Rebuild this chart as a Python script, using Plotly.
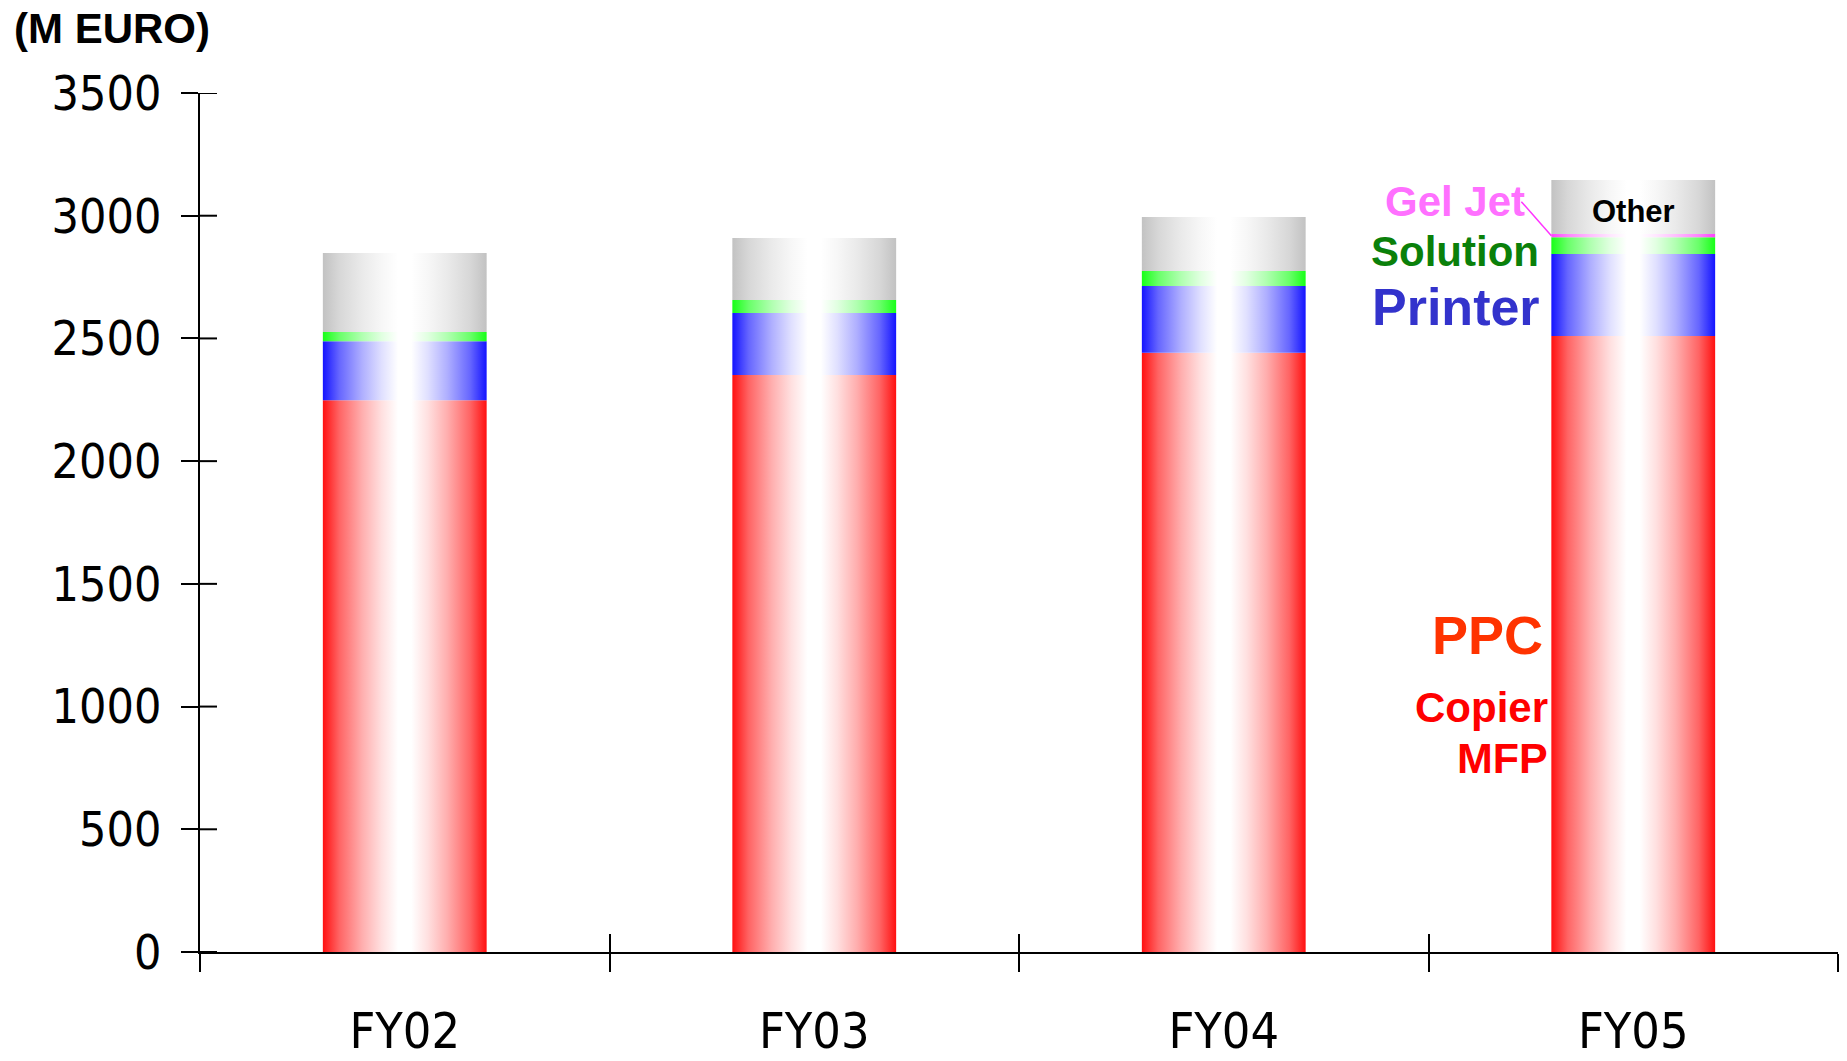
import plotly.graph_objects as go

# Net sales by business segment (M EURO)
categories = ["FY02", "FY03", "FY04", "FY05"]
ppc = [2248, 2351, 2442, 2510]
printer = [241, 253, 272, 334]
solution = [37, 53, 61, 68]
gel_jet = [0, 0, 0, 13]
other = [322, 252, 220, 221]
y_ticks = [0, 500, 1000, 1500, 2000, 2500, 3000, 3500]

BAR_WIDTH = 0.4
AXIS_FONT = "Liberation Sans Narrow, DejaVu Sans Condensed, Arial Narrow, sans-serif"
LABEL_FONT = "Liberation Sans, Arial, sans-serif"
TICK_LEN = 17

segments = [
    ("PPC", ppc, (255, 16, 16)),
    ("Printer", printer, (20, 20, 255)),
    ("Solution", solution, (24, 255, 24)),
    ("Gel Jet", gel_jet, (255, 64, 255)),
    ("Other", other, (194, 194, 194)),
]

# Share of the edge colour across a column (0 = edge, 0.5 = centre)
SHADE_STOPS = [(0.0, 1.0), (0.1, 0.65), (0.24, 0.34), (0.36, 0.13), (0.46, 0.0)]


def mix_white(rgb, f):
    r, g, b = (round(255 + (c - 255) * f) for c in rgb)
    return f"rgb({r},{g},{b})"


def column_scale(rgb):
    left = [[p, mix_white(rgb, f)] for p, f in SHADE_STOPS]
    right = [[1 - p, mix_white(rgb, f)] for p, f in reversed(SHADE_STOPS)]
    return left + right


fig = go.Figure()

# Stacked columns, each segment shaded from its colour at the edges to white in the middle
base = [0] * len(categories)
for name, values, rgb in segments:
    scale = column_scale(rgb)
    for i, v in enumerate(values):
        if v <= 0:
            continue
        x0, x1 = i - BAR_WIDTH / 2, i + BAR_WIDTH / 2
        y0, y1 = base[i], base[i] + v
        fig.add_trace(go.Scatter(
            x=[x0, x1, x1, x0, x0],
            y=[y0, y0, y1, y1, y0],
            mode="lines",
            fill="toself",
            line=dict(width=0, color="rgba(0,0,0,0)"),
            fillgradient=dict(type="horizontal", start=x0, stop=x1, colorscale=scale),
            name=f"{name} {categories[i]}",
            hoverinfo="name",
            showlegend=False,
        ))
        base[i] += v

n = len(categories)
totals = base[:]
x_range = [-0.5, n - 0.5]
boundaries = [k - 0.5 for k in range(n + 1)]

# Transparent totals on the overlay x axes so those axes get drawn
for xa in ("x2", "x3"):
    fig.add_trace(go.Scatter(
        x=list(range(n)), y=totals, xaxis=xa, yaxis="y", mode="markers",
        marker=dict(opacity=0), hoverinfo="skip", showlegend=False,
    ))

fig.update_layout(
    width=1847, height=1061,
    margin=dict(l=200, r=9, t=93, b=109, autoexpand=False),
    paper_bgcolor="white", plot_bgcolor="white",
    xaxis=dict(
        range=x_range, tickvals=boundaries, ticks="outside", ticklen=18,
        tickwidth=2, tickcolor="black", showticklabels=False,
        showline=True, linecolor="black", linewidth=2, automargin=False,
        showgrid=False, zeroline=False, fixedrange=True,
    ),
    xaxis2=dict(
        overlaying="x", anchor="y", side="bottom", range=x_range,
        tickvals=boundaries, ticks="inside", ticklen=18, tickwidth=2,
        tickcolor="black", showticklabels=False, showline=False,
        automargin=False, showgrid=False, zeroline=False, fixedrange=True,
    ),
    xaxis3=dict(
        overlaying="x", anchor="y", side="bottom", range=x_range,
        tickvals=list(range(n)), ticktext=categories, ticks="",
        ticklabelstandoff=45, automargin=False,
        tickfont=dict(family=AXIS_FONT, size=50, color="black"),
        showline=False, showgrid=False, zeroline=False, fixedrange=True,
    ),
    yaxis=dict(
        range=[0, 3500], tickvals=y_ticks, ticks="outside", ticklen=TICK_LEN,
        tickwidth=2, tickcolor="black", ticklabelstandoff=10,
        tickfont=dict(family=AXIS_FONT, size=48, color="black"),
        showline=True, linecolor="black", linewidth=2, automargin=False,
        showgrid=False, zeroline=False, fixedrange=True,
    ),
)

# Inner halves of the value-axis ticks, so each tick crosses the axis line
for v in y_ticks:
    fig.add_shape(
        type="line", xref="paper", yref="y", xsizemode="pixel", xanchor=0,
        x0=0, x1=TICK_LEN, y0=v, y1=v, line=dict(color="black", width=2),
    )

# Unit label
fig.add_annotation(
    text="(M EURO)", xref="paper", yref="paper", x=-0.1148, y=1.075,
    xanchor="left", yanchor="middle", showarrow=False,
    font=dict(family=LABEL_FONT, size=42, color="black", weight="bold"),
)

# Segment labels beside the last column
last = n - 1
left_edge = last - BAR_WIDTH / 2
tops = [sum(s[1][last] for s in segments[:k + 1]) for k in range(len(segments))]
labels = [
    ("Gel Jet", 3056, "#ff70ff", 42, -24),
    ("Solution", 2856, "#0a800a", 42, -10),
    ("Printer", 2628, "#3333cc", 52, -9),
    ("PPC", 1292, "#ff3300", 54, -6),
    ("Copier", 998, "#ff0000", 42, -1),
    ("MFP", 792, "#ff0000", 43, -1),
]
for text, yv, color, size, dx in labels:
    fig.add_annotation(
        text=text, x=left_edge, y=yv, xref="x", yref="y",
        xanchor="right", yanchor="middle", xshift=dx, showarrow=False,
        font=dict(family=LABEL_FONT, size=size, color=color, weight="bold"),
    )

# "Other" label inside the top segment
fig.add_annotation(
    text="Other", x=last, y=(tops[3] + tops[4]) / 2, xref="x", yref="y",
    xanchor="center", yanchor="middle", yshift=-4, showarrow=False,
    font=dict(family=LABEL_FONT, size=31, color="black", weight="bold"),
)

# Leader line from the Gel Jet label to its thin segment
gel_mid = tops[2] + gel_jet[last] / 2
fig.add_shape(
    type="line", xref="x", yref="y",
    xsizemode="pixel", ysizemode="pixel",
    xanchor=left_edge, yanchor=gel_mid,
    x0=-30, y0=34, x1=0, y1=0,
    line=dict(color="#ff33ff", width=1.5),
)

fig.write_html("out.html")
